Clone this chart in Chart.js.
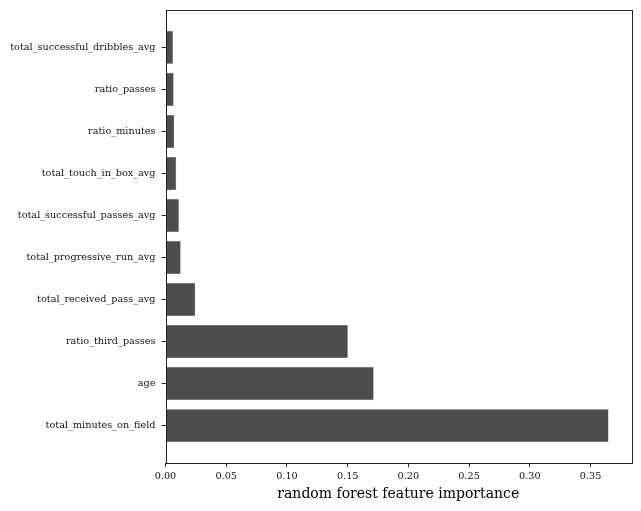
<!DOCTYPE html>
<html>
<head>
<meta charset="utf-8">
<script src="https://cdn.jsdelivr.net/npm/chart.js@4/dist/chart.umd.min.js"></script>
<style>
  html, body { margin: 0; padding: 0; background: #fff; }
  #wrap { width: 641px; height: 511px; }
</style>
</head>
<body>
<div id="wrap"><canvas id="importanceChart" width="641" height="511"></canvas></div>
<script>
// features, bottom to top
var features = [
    'total_minutes_on_field',
    'age',
    'ratio_third_passes',
    'total_received_pass_avg',
    'total_progressive_run_avg',
    'total_successful_passes_avg',
    'total_touch_in_box_avg',
    'ratio_minutes',
    'ratio_passes',
    'total_successful_dribbles_avg'
];
var importances = [0.365, 0.1716, 0.1504, 0.0247, 0.0127, 0.0113, 0.009, 0.0074, 0.0069, 0.0064];
var xTicks = [0, 0.05, 0.10, 0.15, 0.20, 0.25, 0.30, 0.35];

var serif = "'DejaVu Serif', serif";

// matplotlib-style box around the plot area
var frame = {
    id: 'frame',
    afterDraw: function(chart) {
        var a = chart.chartArea, c = chart.ctx;
        c.save();
        c.strokeStyle = '#222';
        c.lineWidth = 1;
        c.strokeRect(Math.round(a.left) + 0.5, Math.round(a.top) + 0.5,
                     Math.round(a.right - a.left), Math.round(a.bottom - a.top));
        c.restore();
    }
};

document.addEventListener('DOMContentLoaded', function() {
    var ctx = document.getElementById('importanceChart').getContext('2d');
    var chart = new Chart(ctx, {
        type: 'bar',
        data: {
            datasets: [{
                label: 'importance',
                data: importances.map(function(v, i) { return { x: v, y: i }; }),
                backgroundColor: '#4d4d4d',
                borderColor: '#d9d9d9',
                borderWidth: 0.6,
                barPercentage: 0.8,
                categoryPercentage: 1.0
            }]
        },
        plugins: [frame],
        options: {
            indexAxis: 'y',
            responsive: false,
            animation: false,
            layout: { padding: { top: 10, right: 10, left: 0, bottom: 0 } },
            plugins: { legend: { display: false }, tooltip: { enabled: false } },
            scales: {
                x: {
                    type: 'linear',
                    min: 0,
                    max: 0.3833,
                    afterBuildTicks: function(axis) {
                        axis.ticks = xTicks.map(function(v) { return { value: v }; });
                    },
                    afterFit: function(axis) { axis.height = 48; },
                    grid: { drawOnChartArea: false, drawTicks: true, tickLength: 4, tickColor: '#222', color: '#222' },
                    border: { display: false },
                    ticks: {
                        color: '#111',
                        padding: 4,
                        maxRotation: 0,
                        font: { family: serif, size: 9.7 },
                        callback: function(v) { return v.toFixed(2); }
                    },
                    title: {
                        display: true,
                        text: 'random forest feature importance',
                        color: '#000',
                        padding: { top: 0, bottom: 8 },
                        font: { family: serif, size: 14 }
                    }
                },
                y: {
                    type: 'linear',
                    offset: false,
                    min: -0.89,
                    max: 9.89,
                    afterBuildTicks: function(axis) {
                        axis.ticks = features.map(function(f, i) { return { value: i }; });
                    },
                    afterFit: function(axis) {
                        axis.width = 165.5;
                        axis.paddingTop = 0;
                        axis.paddingBottom = 0;
                    },
                    grid: { offset: false, drawOnChartArea: false, drawTicks: true, tickLength: 4, tickColor: '#222', color: '#222' },
                    border: { display: false },
                    ticks: {
                        color: '#111',
                        padding: 6,
                        font: { family: serif, size: 9.7 },
                        callback: function(v) { return features[v]; }
                    }
                }
            }
        }
    });
});
</script>
</body>
</html>
